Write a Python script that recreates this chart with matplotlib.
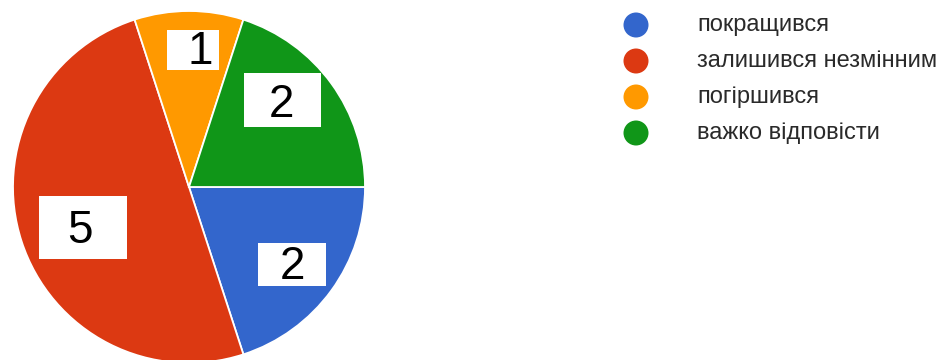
import matplotlib
matplotlib.use("Agg")
import matplotlib.pyplot as plt
from matplotlib.patches import Rectangle
import numpy as np

categories = ["покращився", "залишився незмінним", "погіршився", "важко відповісти"]
values = [2, 5, 1, 2]
colors = ["#3366CC", "#DC3912", "#FF9900", "#109618"]

# label box geometry (data units of the pie axes): centre x, centre y, width, height
box_centers = [(0.585, -0.44), (-0.602, -0.23), (0.023, 0.778), (0.531, 0.494)]
box_sizes = [(0.386, 0.244), (0.50, 0.358), (0.295, 0.227), (0.4375, 0.307)]
text_offsets = [(0.0, -0.015), (-0.017, -0.02), (0.04, -0.01), (-0.008, -0.028)]

W, H = 939, 360
fig = plt.figure(figsize=(W / 100, H / 100), dpi=100)
fig.patch.set_facecolor("white")

# pie axes: centre (189,187) px, radius 176 px
cx, cy, R = 189, 187, 176
ax = fig.add_axes([(cx - R) / W, (H - cy - R) / H, 2 * R / W, 2 * R / H])
ax.pie(values, colors=colors, startangle=0, counterclock=False, radius=1,
       wedgeprops=dict(edgecolor="white", linewidth=1.3))
ax.set_xlim(-1, 1)
ax.set_ylim(-1, 1)
ax.set_aspect("equal")
ax.axis("off")

for v, (bx, by), (bw, bh), (ox, oy) in zip(values, box_centers, box_sizes, text_offsets):
    ax.add_patch(Rectangle((bx - bw / 2, by - bh / 2), bw, bh, facecolor="white",
                           edgecolor="none", zorder=3))
    ax.text(bx + ox, by + oy, str(v), ha="center", va="center", fontsize=33,
            family="Liberation Sans", color="black", zorder=4)

# legend
lax = fig.add_axes([0, 0, 1, 1])
lax.set_xlim(0, W)
lax.set_ylim(H, 0)
lax.axis("off")
leg_y = [25, 61, 97, 133]
for name, c, y in zip(categories, colors, leg_y):
    lax.scatter([636], [y], s=(25 * 0.72) ** 2, color=c, edgecolors="none")
    lax.text(697, y, name, ha="left", va="center", fontsize=17,
             family="Liberation Sans", color="#2a2a2a")

fig.savefig("out.png", dpi=100, facecolor="white")
